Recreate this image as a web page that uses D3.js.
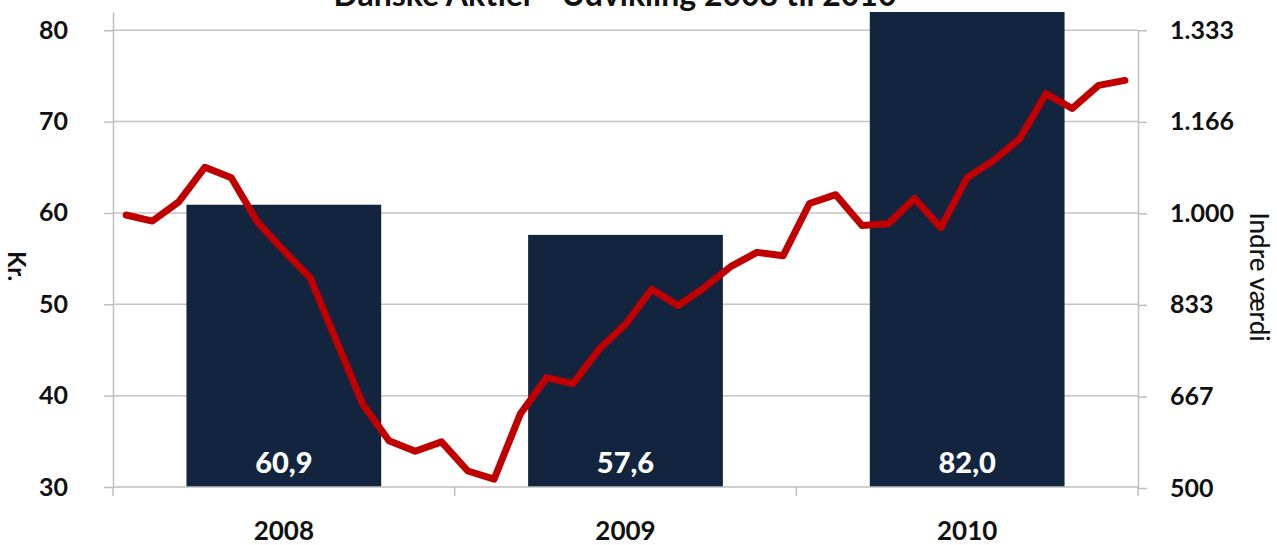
<!DOCTYPE html>
<html>
<head>
<meta charset="utf-8">
<script src="https://cdn.jsdelivr.net/npm/d3@7"></script>
<style>
html,body{margin:0;padding:0;background:#fff;}
svg{display:block;}
text{font-family:Lato,"Open Sans",sans-serif;fill:#111;}
</style>
</head>
<body>
<svg id="chart" width="1277" height="545"></svg>
<script>
const title = "Danske Aktier - Udvikling 2008 til 2010";
const categories = ["2008", "2009", "2010"];
const barValues = [60.9, 57.6, 82.0];
const barLabels = ["60,9", "57,6", "82,0"];
const leftTicks = [30, 40, 50, 60, 70, 80];
const rightTicks = [500, 666.67, 833.33, 1000, 1166.67, 1333.33];
const rightTickLabels = ["500", "667", "833", "1.000", "1.166", "1.333"];
const lineValues = [997, 986, 1021, 1084, 1065, 984, 932, 883, 768, 653,
  586, 567, 584, 531, 516, 635, 701, 690, 753, 798,
  862, 832, 865, 903, 929, 923, 1018, 1034, 978, 981,
  1027, 974, 1065, 1096, 1136, 1218, 1191, 1233, 1242];

const svg = d3.select("#chart");
const L = 113, R = 1138, B = 487;

const yLeft = d3.scaleLinear().domain([30, 82]).range([B, 12]);
const yRight = d3.scaleLinear().domain([500, 1333.33]).range([B + 1, yLeft(80)]);
const x = d3.scaleBand().domain(categories).range([L, R]).paddingInner(0.43).paddingOuter(0.215);
const xCat = d3.scaleBand().domain(categories).range([L, R]).padding(0);
const xLine = d3.scalePoint().domain(d3.range(lineValues.length)).range([L, R]).padding(0.5);

const tickFont = "25px";

// gridlines
svg.append("g").selectAll("line").data(leftTicks.slice(1)).join("line")
  .attr("x1", L).attr("x2", R)
  .attr("y1", d => yLeft(d)).attr("y2", d => yLeft(d))
  .attr("stroke", "#c4c4c4").attr("stroke-width", 1.5);

// bars
svg.append("g").selectAll("rect").data(categories).join("rect")
  .attr("x", d => x(d)).attr("width", x.bandwidth())
  .attr("y", (d, i) => yLeft(barValues[i]))
  .attr("height", (d, i) => B - yLeft(barValues[i]))
  .attr("fill", "#13243f");

// bar labels
svg.append("g").selectAll("text").data(categories).join("text")
  .attr("x", d => x(d) + x.bandwidth() / 2).attr("y", 473)
  .attr("text-anchor", "middle")
  .style("fill", "#fff").style("font-weight", "900").style("font-size", "29px")
  .text((d, i) => barLabels[i]);

// left axis
const gL = svg.append("g").attr("transform", `translate(${L},0)`)
  .call(d3.axisLeft(yLeft).tickValues(leftTicks).tickSize(9).tickPadding(36).tickSizeOuter(0));
gL.select(".domain").attr("stroke", "#bfbfbf").attr("stroke-width", 1.5);
gL.selectAll(".tick line").attr("stroke", "#bfbfbf").attr("stroke-width", 1.5);
gL.selectAll(".tick text").style("font-size", tickFont).style("font-weight", "bold").style("font-family", "Lato, 'Open Sans', sans-serif").attr("fill", "#111");

// right axis
const gR = svg.append("g").attr("transform", `translate(${R},0)`)
  .call(d3.axisRight(yRight).tickValues(rightTicks).tickFormat((d, i) => rightTickLabels[i]).tickSize(9).tickPadding(23).tickSizeOuter(0));
gR.select(".domain").attr("stroke", "#bfbfbf").attr("stroke-width", 1.5);
gR.selectAll(".tick line").attr("stroke", "#bfbfbf").attr("stroke-width", 1.5);
gR.selectAll(".tick text").style("font-size", tickFont).style("font-weight", "bold").style("font-family", "Lato, 'Open Sans', sans-serif").attr("fill", "#111");

// bottom axis
const gB = svg.append("g").attr("transform", `translate(0,${B})`);
gB.append("line").attr("x1", L).attr("x2", R).attr("stroke", "#bfbfbf").attr("stroke-width", 1.5);
gB.selectAll("line.tk").data([...categories.map(c => xCat(c)), R]).join("line").attr("class", "tk")
  .attr("x1", d => d).attr("x2", d => d).attr("y1", 0).attr("y2", 9)
  .attr("stroke", "#bfbfbf").attr("stroke-width", 1.5);
gB.selectAll("text").data(categories).join("text")
  .attr("x", d => xCat(d) + xCat.bandwidth() / 2).attr("y", 53)
  .attr("text-anchor", "middle")
  .style("font-size", "26px").style("font-weight", "bold")
  .text(d => d);

// line
const line = d3.line().x((d, i) => xLine(i)).y(d => yRight(d));
svg.append("path").datum(lineValues)
  .attr("d", line).attr("fill", "none")
  .attr("stroke", "#c00000").attr("stroke-width", 7)
  .attr("stroke-linejoin", "round").attr("stroke-linecap", "round");

// title
svg.append("text").attr("x", 615).attr("y", 6).attr("text-anchor", "middle")
  .style("font-size", "32px").style("font-weight", "bold").text(title);

// axis titles
svg.append("text").attr("transform", "translate(8,266) rotate(90)")
  .attr("text-anchor", "middle")
  .style("font-size", "24px").style("font-weight", "bold").text("Kr.");
svg.append("text").attr("transform", "translate(1250,277) rotate(90)")
  .attr("text-anchor", "middle")
  .style("font-size", "26px").style("font-weight", "500").text("Indre værdi");
</script>
</body>
</html>
